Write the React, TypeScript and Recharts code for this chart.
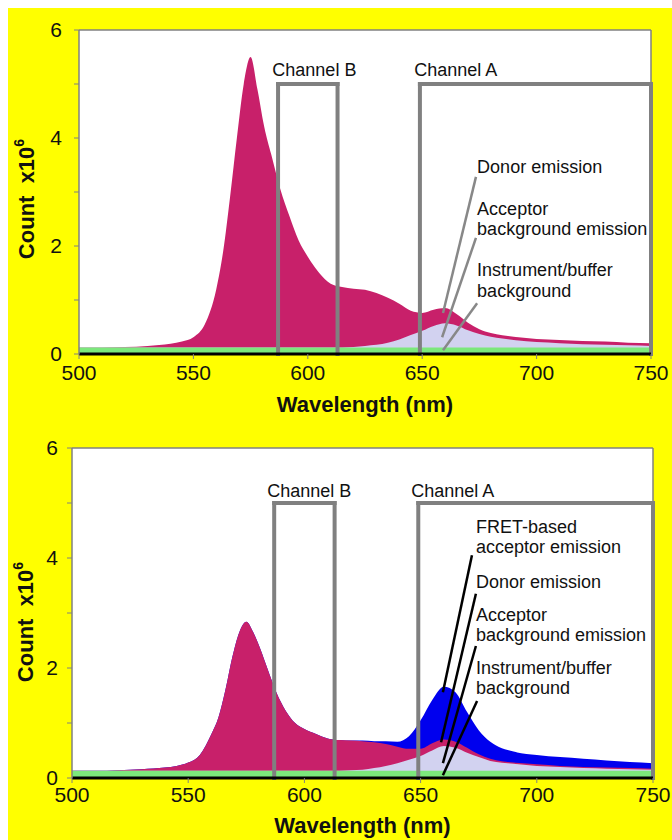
import {
  ComposedChart,
  Area,
  XAxis,
  YAxis,
  CartesianGrid,
  ReferenceLine,
  ReferenceDot,
} from "recharts";

// wavelength grid (nm)
const wavelength = [
  500, 510, 520, 530, 540, 545, 550, 555, 560, 563, 566, 569, 572, 575, 578,
  581, 584, 588, 592, 596, 600, 605, 610, 615, 620, 625, 630, 635, 640, 645,
  650, 655, 660, 665, 670, 675, 680, 690, 700, 710, 720, 730, 740, 750,
];

// top panel: envelopes (count x10^6)
const topDonor = [
  0.12, 0.12, 0.13, 0.15, 0.19, 0.23, 0.31, 0.55, 1.2, 1.9, 2.9, 4.0, 5.0, 5.5,
  4.9, 4.2, 3.7, 3.05, 2.55, 2.1, 1.8, 1.5, 1.3, 1.24, 1.21, 1.19, 1.13, 1.04,
  0.93, 0.8, 0.76, 0.82, 0.85, 0.74, 0.58, 0.46, 0.39, 0.32, 0.28, 0.26, 0.24,
  0.23, 0.21, 0.2,
];
const topAcceptorBg = [
  0.12, 0.12, 0.12, 0.12, 0.12, 0.12, 0.12, 0.12, 0.12, 0.12, 0.12, 0.12, 0.12,
  0.12, 0.12, 0.12, 0.12, 0.12, 0.12, 0.12, 0.12, 0.12, 0.12, 0.12, 0.13, 0.15,
  0.17, 0.21, 0.27, 0.35, 0.43, 0.52, 0.57, 0.53, 0.44, 0.37, 0.32, 0.26, 0.22,
  0.2, 0.18, 0.17, 0.16, 0.15,
];
const topBuffer = wavelength.map(() => 0.12);

// bottom panel: envelopes (count x10^6)
const botFret = [
  0.13, 0.13, 0.14, 0.16, 0.19, 0.22, 0.28, 0.42, 0.8, 1.1, 1.6, 2.2, 2.65,
  2.84, 2.65, 2.35, 2.0, 1.55, 1.22, 1.0, 0.89, 0.8, 0.72, 0.69, 0.68, 0.68,
  0.67, 0.67, 0.66, 0.76, 1.05, 1.42, 1.66, 1.56, 1.2, 0.87, 0.66, 0.48, 0.42,
  0.38, 0.35, 0.32, 0.29, 0.27,
];
const botDonor = [
  0.13, 0.13, 0.14, 0.16, 0.19, 0.22, 0.28, 0.42, 0.8, 1.1, 1.6, 2.2, 2.65,
  2.84, 2.65, 2.35, 2.0, 1.55, 1.22, 1.0, 0.89, 0.8, 0.72, 0.69, 0.68, 0.67,
  0.65, 0.62, 0.57, 0.53, 0.53, 0.63, 0.7, 0.66, 0.55, 0.43, 0.35, 0.28, 0.25,
  0.22, 0.2, 0.19, 0.18, 0.17,
];
const botAcceptorBg = [
  0.13, 0.13, 0.13, 0.13, 0.13, 0.13, 0.13, 0.13, 0.13, 0.13, 0.13, 0.13, 0.13,
  0.13, 0.13, 0.13, 0.13, 0.13, 0.13, 0.13, 0.13, 0.13, 0.13, 0.13, 0.14, 0.15,
  0.18, 0.22, 0.27, 0.33, 0.4, 0.5, 0.58, 0.55, 0.46, 0.38, 0.31, 0.26, 0.22,
  0.2, 0.18, 0.17, 0.16, 0.15,
];
const botBuffer = wavelength.map(() => 0.13);

const xTicks = [500, 550, 600, 650, 700, 750];
const yTicks = [0, 1, 2, 3, 4, 5, 6];

// channel windows
const channels = [
  { name: "Channel B", from: 587, to: 613, top: 5 },
  { name: "Channel A", from: 649, to: 750, top: 5 },
];

// annotation texts (data coords) and leader lines
const topNotes = [
  { text: "Donor emission", x: 674, y: 3.46 },
  { text: "Acceptor", x: 674, y: 2.69 },
  { text: "background emission", x: 674, y: 2.31 },
  { text: "Instrument/buffer", x: 674, y: 1.56 },
  { text: "background", x: 674, y: 1.17 },
];
const topLeaders = [
  [673.5, 3.28, 659.1, 0.76],
  [673.5, 2.15, 658.7, 0.31],
  [674, 0.94, 659.1, 0.07],
];
const botNotes = [
  { text: "FRET-based", x: 673.8, y: 4.56 },
  { text: "acceptor emission", x: 673.8, y: 4.2 },
  { text: "Donor emission", x: 673.8, y: 3.56 },
  { text: "Acceptor", x: 673.8, y: 2.96 },
  { text: "background emission", x: 673.8, y: 2.6 },
  { text: "Instrument/buffer", x: 673.8, y: 2.0 },
  { text: "background", x: 673.8, y: 1.64 },
];
const botLeaders = [
  [672.1, 4.05, 659.6, 1.56],
  [673.8, 3.35, 658.8, 0.65],
  [673.8, 2.4, 659.6, 0.27],
  [674.3, 1.4, 659.6, 0.05],
];

const FONT = "'Liberation Sans', Arial, sans-serif";
const GRAY = "#808080";

function noteLabel(text: string) {
  return (props: any) => {
    const vb = props.viewBox || {};
    return (
      <text
        x={vb.x}
        y={vb.y}
        dominantBaseline="central"
        fontSize={18}
        fontFamily={FONT}
        fill="#111"
      >
        {text}
      </text>
    );
  };
}

interface PanelProps {
  layers: { values: number[]; color: string }[];
  notes: { text: string; x: number; y: number }[];
  leaders: number[][];
  leaderColor: string;
  width: number;
  height: number;
  margin: { top: number; right: number; bottom: number; left: number };
  yAxisWidth: number;
  xAxisHeight: number;
  yTickMargin: number;
  xTickMargin: number;
  yTitleX: number;
  yTitleShift: number;
  xTitleY: number;
  channelLabelY: number;
  channelLabelDx: number;
}

function Panel(p: PanelProps) {
  const data = wavelength.map((w, i) => {
    const row: any = { w };
    p.layers.forEach((l, j) => {
      row["s" + j] = l.values[i];
    });
    return row;
  });

  return (
    <ComposedChart width={p.width} height={p.height} data={data} margin={p.margin}>
      <CartesianGrid fill="#ffffff" horizontal={false} vertical={false} />
      {p.layers.map((l, j) => (
        <Area
          key={j}
          dataKey={"s" + j}
          type="monotone"
          stroke="none"
          fill={l.color}
          fillOpacity={1}
          isAnimationActive={false}
          dot={false}
          activeDot={false}
        />
      ))}
      <XAxis
        dataKey="w"
        type="number"
        domain={[500, 750]}
        ticks={xTicks}
        height={p.xAxisHeight}
        axisLine={{ stroke: "#000", strokeWidth: 3 }}
        tickLine={{ stroke: GRAY }}
        tickSize={5}
        tickMargin={p.xTickMargin}
        fontSize={21}
        tick={{ fill: "#111", fontSize: 21, fontFamily: FONT }}
        label={(props: any) => {
          const vb = props.viewBox || {};
          return (
            <text
              x={vb.x + vb.width / 2}
              y={p.xTitleY}
              textAnchor="middle"
              dominantBaseline="central"
              fontSize={22}
              fontWeight="bold"
              fontFamily={FONT}
              fill="#111"
            >
              Wavelength (nm)
            </text>
          );
        }}
      />
      <YAxis
        type="number"
        domain={[0, 6]}
        ticks={yTicks}
        width={p.yAxisWidth}
        axisLine={{ stroke: GRAY, strokeWidth: 1.5 }}
        tickLine={{ stroke: GRAY }}
        tickSize={5}
        tickMargin={p.yTickMargin}
        fontSize={21}
        tickFormatter={(v: number) => (v % 2 === 0 ? String(v) : "")}
        tick={{ fill: "#111", fontSize: 21, fontFamily: FONT }}
        label={(props: any) => {
          const vb = props.viewBox || {};
          const cx = p.yTitleX;
          const cy = vb.y + vb.height / 2 + p.yTitleShift;
          return (
            <text
              transform={`translate(${cx},${cy}) rotate(-90)`}
              textAnchor="middle"
              dominantBaseline="central"
              fontSize={22}
              fontWeight="bold"
              fontFamily={FONT}
              fill="#111"
            >
              {"Count\u00a0 x10"}
              <tspan fontSize={14} dy={-7}>
                6
              </tspan>
            </text>
          );
        }}
      />
      <ReferenceLine y={6} stroke={GRAY} strokeWidth={1.5} />
      <ReferenceLine x={750} stroke={GRAY} strokeWidth={1.5} />
      {channels.map((c) => [
        <ReferenceLine
          key={c.name + "l"}
          segment={[
            { x: c.from, y: 0 },
            { x: c.from, y: c.top },
          ]}
          stroke={GRAY}
          strokeWidth={4}
          strokeLinecap="square"
        />,
        <ReferenceLine
          key={c.name + "t"}
          segment={[
            { x: c.from, y: c.top },
            { x: c.to, y: c.top },
          ]}
          stroke={GRAY}
          strokeWidth={4}
          strokeLinecap="square"
        />,
        <ReferenceLine
          key={c.name + "r"}
          segment={[
            { x: c.to, y: c.top },
            { x: c.to, y: 0 },
          ]}
          stroke={GRAY}
          strokeWidth={4}
          strokeLinecap="square"
        />,
        <ReferenceDot
          key={c.name + "txt"}
          x={c.from + p.channelLabelDx}
          y={p.channelLabelY}
          r={0}
          fill="none"
          stroke="none"
          label={noteLabel(c.name)}
        />,
      ])}
      {p.leaders.map((s, i) => (
        <ReferenceLine
          key={"ld" + i}
          segment={[
            { x: s[0], y: s[1] },
            { x: s[2], y: s[3] },
          ]}
          stroke={p.leaderColor}
          strokeWidth={2.5}
        />
      ))}
      {p.notes.map((n) => (
        <ReferenceDot
          key={n.text}
          x={n.x}
          y={n.y}
          r={0}
          fill="none"
          stroke="none"
          label={noteLabel(n.text)}
        />
      ))}
    </ComposedChart>
  );
}

export default function App() {
  return (
    <div
      style={{
        position: "fixed",
        top: 8,
        left: 8,
        background: "#ffff00",
        width: 664,
        height: 832,
        overflow: "hidden",
      }}
    >
      <Panel
        layers={[
          { values: topDonor, color: "#c8206a" },
          { values: topAcceptorBg, color: "#d2d2f0" },
          { values: topBuffer, color: "#7ce87c" },
        ]}
        notes={topNotes}
        leaders={topLeaders}
        leaderColor="#888888"
        width={664}
        height={410}
        margin={{ top: 22, right: 21, bottom: 0, left: 0 }}
        yAxisWidth={71}
        xAxisHeight={64}
        yTickMargin={12}
        xTickMargin={6}
        yTitleX={18}
        yTitleShift={7}
        xTitleY={396}
        channelLabelY={5.26}
        channelLabelDx={-2.5}
      />
      <Panel
        layers={[
          { values: botFret, color: "#0000ee" },
          { values: botDonor, color: "#c8206a" },
          { values: botAcceptorBg, color: "#d2d2f0" },
          { values: botBuffer, color: "#7ce87c" },
        ]}
        notes={botNotes}
        leaders={botLeaders}
        leaderColor="#000000"
        width={664}
        height={422}
        margin={{ top: 30, right: 19, bottom: 0, left: 0 }}
        yAxisWidth={64}
        xAxisHeight={62}
        yTickMargin={9}
        xTickMargin={4}
        yTitleX={17}
        yTitleShift={9}
        xTitleY={407}
        channelLabelY={5.22}
        channelLabelDx={-3}
      />
    </div>
  );
}
